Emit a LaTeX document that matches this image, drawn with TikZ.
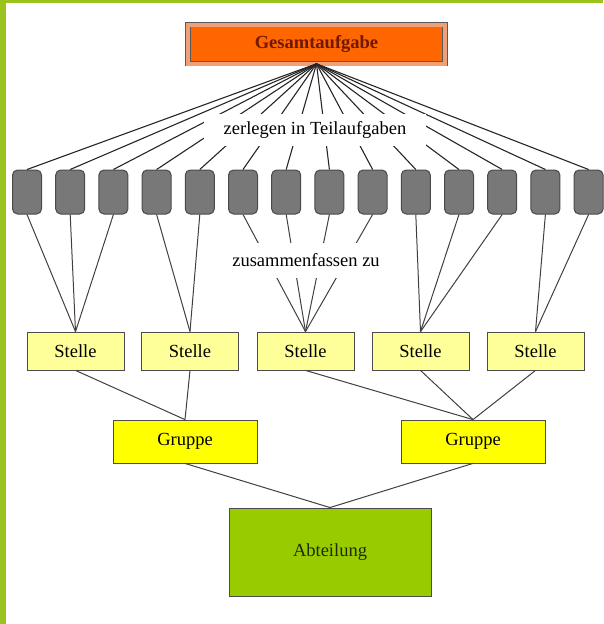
\documentclass[tikz,border=0pt]{standalone}
\usepackage{fontspec}
\setmainfont{Liberation Serif}
\usetikzlibrary{calc}

\definecolor{framegreen}{HTML}{9BC31E}
\definecolor{gesamtorange}{HTML}{FF6600}
\definecolor{bevelorange}{HTML}{EFA077}
\definecolor{gesamttext}{HTML}{701800}
\definecolor{taskgray}{HTML}{787878}
\definecolor{taskedge}{HTML}{4A4A4A}
\definecolor{stellegelb}{HTML}{FFFF99}
\definecolor{gruppegelb}{HTML}{FFFF00}
\definecolor{abteilgruen}{HTML}{99CC00}
\definecolor{abteiltext}{HTML}{1E2C00}

\begin{document}
\begin{tikzpicture}[ x=1pt, y=-1pt,
  txt/.style={font=\fontsize{18.5}{21}\selectfont},
  task/.style={draw=taskedge, fill=taskgray, line width=1pt, rounded corners=5pt,
               minimum width=29pt, minimum height=44pt, inner sep=0pt},
  stelle/.style={txt, draw=black!70, fill=stellegelb, line width=0.8pt,
                 minimum width=97pt, minimum height=38pt},
  gruppe/.style={txt, draw=black!70, fill=gruppegelb, line width=0.8pt,
                 minimum width=144pt, minimum height=43pt},
  ray/.style={black!85, line width=1.1pt},
  con/.style={black!75, line width=1pt} ]

\useasboundingbox (0,0) rectangle (603,624);

%Frame
\fill[framegreen] (0,0) rectangle (6,624);
\fill[framegreen] (0,0) rectangle (603,3);

%Top task
\node[draw=black!65, line width=0.6pt, double=bevelorange, double distance=4pt,
      fill=gesamtorange, minimum width=257pt, minimum height=39pt,
      font=\fontsize{18.5}{21}\selectfont\bfseries, text=gesamttext]
      (gesamt) at (316.5,44) {Gesamtaufgabe};

%Sub tasks
\foreach \i in {1,...,14}
    \node[task] (t\i) at ({27+43.2*(\i-1)},192) {};

\foreach \i in {1,...,14}
    \draw[ray] (gesamt.south) -- (t\i.north);

\node[txt, fill=white, inner xsep=20pt, minimum height=32pt] (zerlegen) at (315,130) {zerlegen in Teilaufgaben};

%Stellen
\foreach \i/\x in {1/75.5,2/190,3/305.5,4/420.5,5/535.5}
    \node[stelle] (stelle\i) at (\x,351) {Stelle};

\foreach \t/\s in {1/1,2/1,3/1,4/2,5/2,6/3,7/3,8/3,9/3,10/4,11/4,12/4,13/5,14/5}
    \draw[con] (t\t.south) -- (stelle\s.north);

\node[txt, fill=white, inner xsep=5pt, minimum height=35pt] (zusammen) at (306,260) {zusammenfassen zu};

%Gruppen
\node[gruppe] (gruppe1) at (185,441.5) {Gruppe};
\node[gruppe] (gruppe2) at (473,441.5) {Gruppe};

\draw[con] (stelle1.south) -- (gruppe1.north);
\draw[con] (stelle2.south) -- (gruppe1.north);
\draw[con] (stelle3.south) -- (gruppe2.north);
\draw[con] (stelle4.south) -- (gruppe2.north);
\draw[con] (stelle5.south) -- (gruppe2.north);

%Abteilung
\node[txt, draw=black!70, fill=abteilgruen, line width=0.9pt, text=abteiltext,
      minimum width=202pt, minimum height=88pt] (abteilung) at (330,552) {Abteilung};

\draw[con] (gruppe1.south) -- (abteilung.north);
\draw[con] (gruppe2.south) -- (abteilung.north);

\end{tikzpicture}
\end{document}
